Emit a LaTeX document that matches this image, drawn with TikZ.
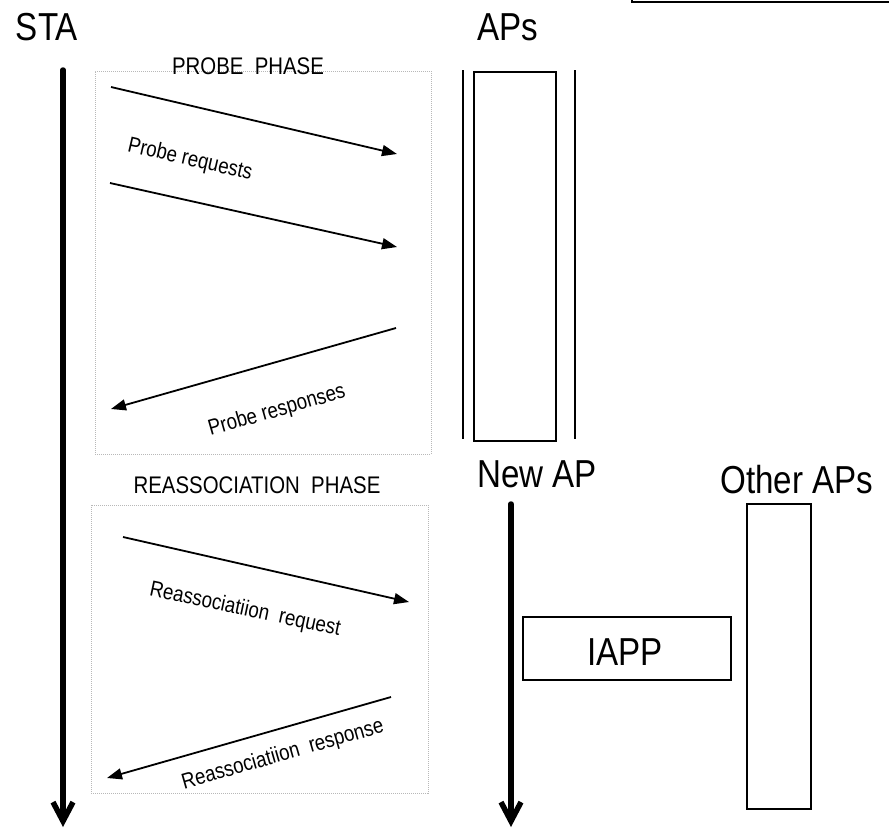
\documentclass[tikz,border=0pt]{standalone}
\usepackage{fontspec}
\setmainfont{Liberation Sans}[FakeStretch=0.85]
\usepackage{tikz}
\usetikzlibrary{arrows.meta}
\definecolor{dotgrey}{HTML}{B8B8B8}
\tikzset{
  bigtxt/.style  = {anchor=base, inner sep=0pt, font=\fontsize{39}{44}\selectfont},
  phasetxt/.style= {anchor=base, inner sep=0pt, font=\fontsize{24}{28}\selectfont},
  msgtxt/.style  = {inner sep=0pt, font=\fontsize{22}{26}\selectfont},
  phasebox/.style= {rectangle, draw=dotgrey, densely dotted, line width=1pt, inner sep=0pt},
  apbox/.style   = {rectangle, draw, line width=1.6pt, inner sep=0pt},
  life/.style    = {line width=5.5pt, line cap=round, -{Straight Barb[length=19pt,width=20pt]}},
  msg/.style     = {line width=1.8pt, -{Triangle[length=15pt,width=11pt]}},
}

\begin{document}
\begin{tikzpicture}[x=1pt, y=-1pt]
  \useasboundingbox (0,0) rectangle (889,828);

  %% ---------------- headers ----------------
  \node[bigtxt] (sta) at (47,40) {STA};
  \node[bigtxt] (aps) at (508,40) {APs};
  \node[bigtxt] (newap) at (537,487) {New AP};
  \node[bigtxt] (otheraps) at (797,493) {Other APs};
  \draw[line width=1.6pt] (632,-2) -- (632,2) -- (892,2);

  %% ---------------- lifelines ----------------
  \coordinate (staTop) at (63,70);
  \coordinate (staEnd) at (63,827);
  \coordinate (newTop) at (511,504);
  \coordinate (newEnd) at (511,827);
  \draw[life] (staTop) -- (staEnd);
  \draw[life] (newTop) -- (newEnd);

  %% ---------------- access points ----------------
  \node[apbox, minimum width=82pt, minimum height=369pt] (apgroup) at (515,256.5) {};
  \draw[line width=1.6pt] (463,70) -- (463,439);
  \draw[line width=1.6pt] (575,70) -- (575,439);
  \node[apbox, minimum width=64pt, minimum height=305pt] (otherbox) at (779,656.5) {};
  \node[apbox, minimum width=208pt, minimum height=63pt] (iapp) at (627,648.5) {};
  \node[bigtxt] (iapptxt) at (625,665) {IAPP};

  %% ---------------- probe phase ----------------
  \node[phasebox, minimum width=336pt, minimum height=383pt] (probebox) at (263,262.5) {};
  \node[phasetxt] (probetxt) at (248,74) {PROBE\ \ PHASE};
  \coordinate (preqA) at (111,87);   \coordinate (preqAe) at (397,154);
  \coordinate (preqB) at (110,183);  \coordinate (preqBe) at (397,247);
  \coordinate (prsp)  at (396,328);  \coordinate (prspe)  at (111,409);
  \draw[msg] (preqA) -- (preqAe);
  \draw[msg] (preqB) -- (preqBe);
  \draw[msg] (prsp) -- (prspe);
  \node[msgtxt, rotate=-13] (preqtxt) at (190,160) {Probe requests};
  \node[msgtxt, rotate=16] (prsptxt) at (277,411) {Probe responses};

  %% ---------------- reassociation phase ----------------
  \node[phasebox, minimum width=337pt, minimum height=288pt] (reassbox) at (259.5,649) {};
  \node[phasetxt] (reasstxt) at (257,493) {REASSOCIATION\ \ PHASE};
  \coordinate (rreq) at (123,537);  \coordinate (rreqe) at (409,602);
  \coordinate (rrsp) at (391,697);  \coordinate (rrspe) at (107,778);
  \draw[msg] (rreq) -- (rreqe);
  \draw[msg] (rrsp) -- (rrspe);
  \node[msgtxt, rotate=-12] (rreqtxt) at (245,610) {Reassociatiion\ \ request};
  \node[msgtxt, rotate=16] (rrsptxt) at (283,755) {Reassociatiion\ \ response};
\end{tikzpicture}
\end{document}
